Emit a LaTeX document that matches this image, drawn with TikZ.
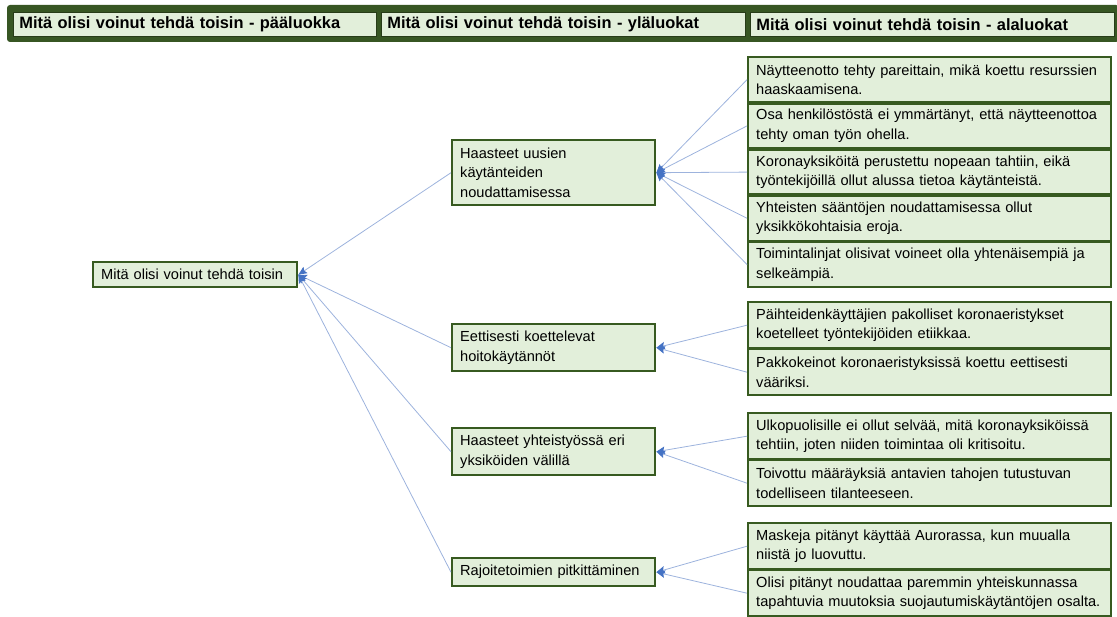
\documentclass[tikz,border=0pt]{standalone}
\usepackage{fontspec}
\setmainfont{Liberation Sans}
\usetikzlibrary{arrows.meta}
\definecolor{boxfill}{HTML}{E2EFDA}
\definecolor{boxline}{HTML}{375A20}
\definecolor{headbar}{HTML}{375623}
\definecolor{linkblue}{HTML}{9DB3DD}
\definecolor{tipblue}{HTML}{4472C4}
\begin{document}
\begin{tikzpicture}[x=1pt,y=-1pt,
  box/.style={draw=boxline, fill=boxfill, line width=2.4pt, anchor=north west,
    align=left, inner xsep=8pt, inner ysep=0pt,
    font=\fontsize{14.6}{19.5}\selectfont},
  subbox/.style={box, text width=347pt, minimum height=45pt},
  midbox/.style={box, text width=187pt},
  rootbox/.style={box, text width=188pt, minimum height=25pt},
  headcell/.style={draw=headbar!70!black, line width=0.8pt, fill=boxfill,
    anchor=north west, align=left, inner xsep=6pt, inner ysep=0pt,
    minimum height=24pt, font=\fontsize{16.4}{19}\selectfont\bfseries},
  link/.style={draw=linkblue, line width=0.8pt,
    -{Stealth[length=8.5pt,width=7.5pt,inset=1.5pt,color=tipblue]}}]
\useasboundingbox (0,0) rectangle (1117,617);

% column headers
\fill[headbar, rounded corners=3pt] (7,5) rectangle (1119,42);
\node[headcell, text width=351pt] (h1) at (13,12) {Mitä olisi voinut tehdä toisin - pääluokka};
\node[headcell, text width=352pt] (h2) at (381,12) {Mitä olisi voinut tehdä toisin - yläluokat};
\node[headcell, text width=352pt] (h3) at (750,12) {Mitä olisi voinut tehdä toisin - alaluokat};

% main category
\node[rootbox] (root) at (92,261) {Mitä olisi voinut tehdä toisin};

% upper categories
\node[midbox, minimum height=65pt] (m1) at (451,139) {Haasteet uusien\\käytänteiden\\noudattamisessa};
\node[midbox, minimum height=47pt] (m2) at (451,323) {Eettisesti koettelevat\\hoitokäytännöt};
\node[midbox, minimum height=47pt] (m3) at (451,427) {Haasteet yhteistyössä eri\\yksiköiden välillä};
\node[midbox, minimum height=28pt] (m4) at (451,557) {Rajoitetoimien pitkittäminen};

% lower categories
\node[subbox] (s1) at (747,56)    {Näytteenotto tehty pareittain, mikä koettu resurssien\\haaskaamisena.};
\node[subbox] (s2) at (747,102.2) {Osa henkilöstöstä ei ymmärtänyt, että näytteenottoa\\tehty oman työn ohella.};
\node[subbox] (s3) at (747,148.4) {Koronayksiköitä perustettu nopeaan tahtiin, eikä\\työntekijöillä ollut alussa tietoa käytänteistä.};
\node[subbox] (s4) at (747,194.6) {Yhteisten sääntöjen noudattamisessa ollut\\yksikkökohtaisia eroja.};
\node[subbox] (s5) at (747,240.8) {Toimintalinjat olisivat voineet olla yhtenäisempiä ja\\selkeämpiä.};

\node[subbox, minimum height=46pt] (t1) at (747,301) {Päihteidenkäyttäjien pakolliset koronaeristykset\\koetelleet työntekijöiden etiikkaa.};
\node[subbox, minimum height=46pt] (t2) at (747,348) {Pakkokeinot koronaeristyksissä koettu eettisesti\\vääriksi.};

\node[subbox, minimum height=46pt] (u1) at (747,412) {Ulkopuolisille ei ollut selvää, mitä koronayksiköissä\\tehtiin, joten niiden toimintaa oli kritisoitu.};
\node[subbox, minimum height=46pt] (u2) at (747,459) {Toivottu määräyksiä antavien tahojen tutustuvan\\todelliseen tilanteeseen.};

\node[subbox, minimum height=46pt] (v1) at (747,522) {Maskeja pitänyt käyttää Aurorassa, kun muualla\\niistä jo luovuttu.};
\node[subbox, minimum height=46pt] (v2) at (747,569) {Olisi pitänyt noudattaa paremmin yhteiskunnassa\\tapahtuvia muutoksia suojautumiskäytäntöjen osalta.};

% connectors
\foreach \c in {s1,s2,s3,s4,s5} \draw[link] (\c.west) -- (m1.east);
\foreach \c in {t1,t2} \draw[link] (\c.west) -- (m2.east);
\foreach \c in {u1,u2} \draw[link] (\c.west) -- (m3.east);
\foreach \c in {v1,v2} \draw[link] (\c.west) -- (m4.east);
\foreach \c in {m1,m2,m3,m4} \draw[link] (\c.west) -- (root.east);
\end{tikzpicture}
\end{document}
